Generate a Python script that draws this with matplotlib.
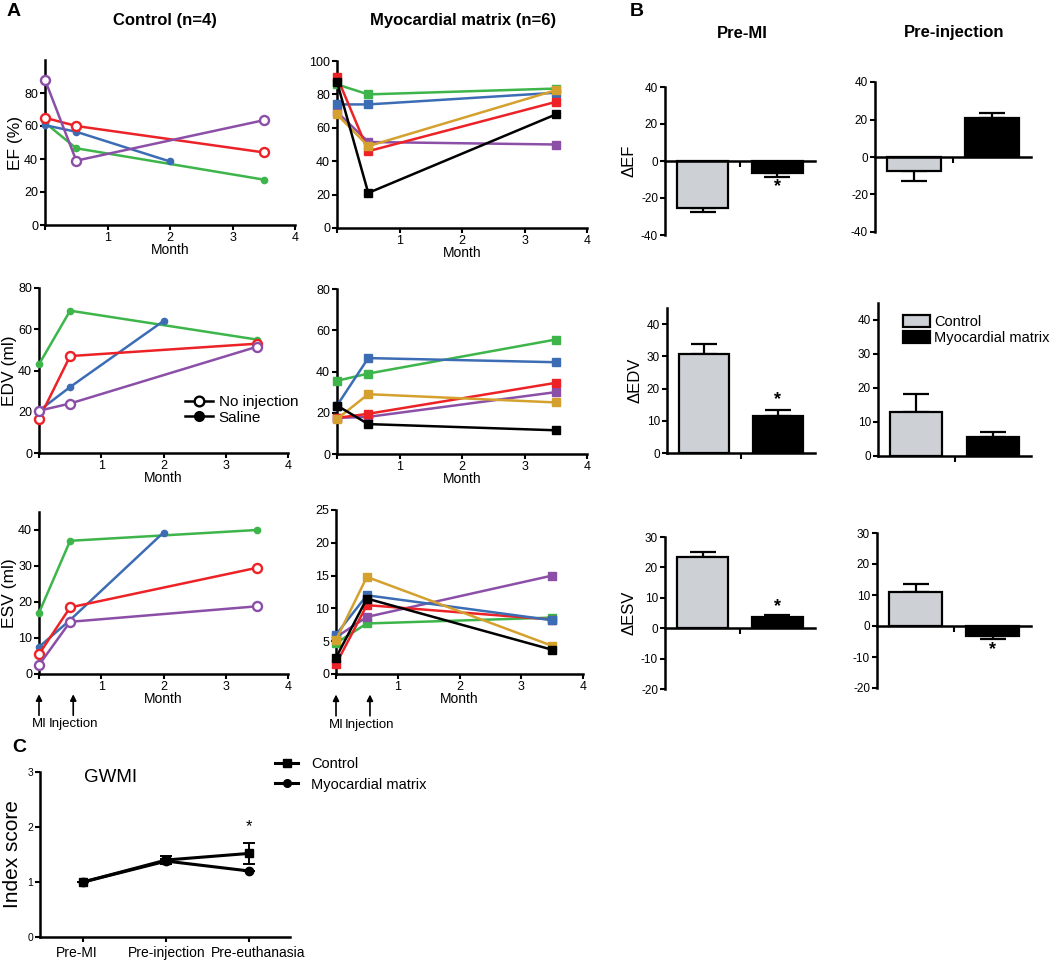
import matplotlib
matplotlib.use('Agg')
import matplotlib.pyplot as plt
import matplotlib.transforms as mtransforms
from matplotlib.lines import Line2D
from matplotlib.patches import Patch

plt.rcParams['font.family'] = ['Liberation Sans', 'DejaVu Sans']
plt.rcParams['axes.unicode_minus'] = False

# ---------------- data ----------------
# Panel A: time (months) of each measurement
t_full = [0, 0.5, 3.5]
t_short = [0, 0.5, 2]

RED, PURPLE, BLUE, GREEN, GOLD, BLACK = '#EC2227', '#8B4FA7', '#3C6DB4', '#3DB54A', '#D5A12E', '#000000'

# Control group (red/purple: no injection, blue/green: saline)
ef_ctrl_red = [65, 60, 44]
ef_ctrl_purple = [88, 39, 63.5]
ef_ctrl_blue = [60.5, 56.5, 38.5]
ef_ctrl_green = [62, 46.5, 27.5]

edv_ctrl_red = [16.5, 47, 53]
edv_ctrl_purple = [20.5, 24, 51.5]
edv_ctrl_blue = [20.5, 32, 64]
edv_ctrl_green = [43, 69, 55]

esv_ctrl_red = [5.5, 18.5, 29.5]
esv_ctrl_purple = [2.5, 14.5, 18.8]
esv_ctrl_blue = [7.5, 15, 39.3]
esv_ctrl_green = [17, 37, 40]

# Myocardial matrix group
ef_mm_red = [90.5, 46, 75.5]
ef_mm_black = [87.5, 21, 68]
ef_mm_green = [86, 80, 83.5]
ef_mm_blue = [74, 74, 81]
ef_mm_purple = [69.5, 51.5, 50]
ef_mm_gold = [68, 49, 82.5]

edv_mm_green = [35.5, 39, 55.5]
edv_mm_blue = [23.5, 46.5, 44.5]
edv_mm_black = [23.5, 14.5, 11.5]
edv_mm_gold = [17, 29, 25]
edv_mm_red = [17.5, 19.5, 34.5]
edv_mm_purple = [17.5, 18, 30]

esv_mm_gold = [5.2, 14.8, 4.3]
esv_mm_blue = [6, 12, 8.2]
esv_mm_black = [2.5, 11.5, 3.7]
esv_mm_red = [1.5, 10.5, 8.3]
esv_mm_purple = [5.6, 8.7, 15]
esv_mm_green = [4.7, 7.7, 8.6]

month_ticklabels = ['', '1', '2', '3', '4']

# Panel B: change values (Control, Myocardial matrix) and SEM
groups = ['Control', 'Myocardial matrix']
d_ef_premi = [-25.5, -6.3]
d_ef_premi_err = [2.0, 2.3]
d_ef_preinj = [-7.5, 20.8]
d_ef_preinj_err = [5.2, 2.8]
d_edv_premi = [30.8, 11.4]
d_edv_premi_err = [3.1, 1.9]
d_edv_preinj = [13.0, 5.6]
d_edv_preinj_err = [5.3, 1.6]
d_esv_premi = [23.5, 3.7]
d_esv_premi_err = [1.6, 0.7]
d_esv_preinj = [11.0, -3.2]
d_esv_preinj_err = [2.5, 1.0]

# Panel C: GWMI
gwmi_labels = ['Pre-MI', 'Pre-injection', 'Pre-euthanasia']
gwmi_ctrl = [1.0, 1.40, 1.52]
gwmi_ctrl_err = [0.0, 0.08, 0.19]
gwmi_mm = [1.0, 1.38, 1.20]
gwmi_mm_err = [0.0, 0.04, 0.0]

# ---------------- figure ----------------
W, H = 1050, 961
fig = plt.figure(figsize=(W / 100, H / 100), dpi=100)


def add_ax(l, t, r, b):
    return fig.add_axes([l / W, 1 - b / H, (r - l) / W, (b - t) / H])


def ftext(x, y, s, **kw):
    fig.text(x / W, 1 - y / H, s, **kw)


def style(ax, ls=8):
    for s in ['top', 'right']:
        ax.spines[s].set_visible(False)
    for s in ['left', 'bottom']:
        ax.spines[s].set_linewidth(1.8)
    ax.tick_params(width=1.5, length=3.5, labelsize=ls, direction='out', pad=1.5)
    ax.patch.set_alpha(0)


def line(ax, x, y, color, kind):
    if kind == 'open':
        ax.plot(x, y, '-o', color=color, lw=1.8, ms=6.5, mfc='white', mec=color,
                mew=1.7, clip_on=False, zorder=3)
    elif kind == 'filled':
        ax.plot(x, y, '-o', color=color, lw=1.8, ms=4.5, clip_on=False, zorder=3)
    else:
        ax.plot(x, y, '-s', color=color, lw=1.8, ms=5.5, clip_on=False, zorder=3)


def month_axis(ax, ylim, yticks, ylabel=None):
    style(ax, ls=9)
    ax.set_xlim(0, 4)
    ax.set_xticks(range(5))
    ax.set_xticklabels(month_ticklabels)
    ax.set_ylim(*ylim)
    ax.set_yticks(yticks)
    ax.set_xlabel('Month', fontsize=10, labelpad=-1)
    if ylabel:
        ax.set_ylabel(ylabel, fontsize=12.5, labelpad=1)


# Panel A
ax = add_ax(45, 60, 295, 225)
month_axis(ax, (0, 100), [0, 20, 40, 60, 80], 'EF (%)')
line(ax, t_full, ef_ctrl_green, GREEN, 'filled')
line(ax, t_short, ef_ctrl_blue, BLUE, 'filled')
line(ax, t_full, ef_ctrl_red, RED, 'open')
line(ax, t_full, ef_ctrl_purple, PURPLE, 'open')

ax = add_ax(337, 61, 587, 228)
month_axis(ax, (0, 100), [0, 20, 40, 60, 80, 100])
for y, c in [(ef_mm_purple, PURPLE), (ef_mm_blue, BLUE), (ef_mm_green, GREEN),
             (ef_mm_red, RED), (ef_mm_gold, GOLD), (ef_mm_black, BLACK)]:
    line(ax, t_full, y, c, 'square')

ax = add_ax(39, 288, 288, 453)
month_axis(ax, (0, 80), [0, 20, 40, 60, 80], 'EDV (ml)')
line(ax, t_full, edv_ctrl_green, GREEN, 'filled')
line(ax, t_short, edv_ctrl_blue, BLUE, 'filled')
line(ax, t_full, edv_ctrl_red, RED, 'open')
line(ax, t_full, edv_ctrl_purple, PURPLE, 'open')
leg_handles = [Line2D([], [], color='k', lw=1.8, marker='o', ms=7, mfc='white', mew=1.7),
               Line2D([], [], color='k', lw=1.8, marker='o', ms=7)]
ax.legend(leg_handles, ['No injection', 'Saline'], loc='upper left',
          bbox_to_anchor=(185 / W, 1 - 395 / H), bbox_transform=fig.transFigure,
          frameon=False, fontsize=11, handlelength=1.8, handletextpad=0.4,
          labelspacing=0.1, borderpad=0, borderaxespad=0)

ax = add_ax(337, 289, 587, 454)
month_axis(ax, (0, 80), [0, 20, 40, 60, 80])
for y, c in [(edv_mm_purple, PURPLE), (edv_mm_red, RED), (edv_mm_gold, GOLD),
             (edv_mm_green, GREEN), (edv_mm_blue, BLUE), (edv_mm_black, BLACK)]:
    line(ax, t_full, y, c, 'square')

ax_esv_c = add_ax(39, 512, 288, 674)
month_axis(ax_esv_c, (0, 45), [0, 10, 20, 30, 40], 'ESV (ml)')
line(ax_esv_c, t_full, esv_ctrl_green, GREEN, 'filled')
line(ax_esv_c, t_short, esv_ctrl_blue, BLUE, 'filled')
line(ax_esv_c, t_full, esv_ctrl_red, RED, 'open')
line(ax_esv_c, t_full, esv_ctrl_purple, PURPLE, 'open')

ax_esv_m = add_ax(336, 510, 583, 674)
month_axis(ax_esv_m, (0, 25), [0, 5, 10, 15, 20, 25])
for y, c in [(esv_mm_green, GREEN), (esv_mm_purple, PURPLE), (esv_mm_red, RED),
             (esv_mm_blue, BLUE), (esv_mm_gold, GOLD), (esv_mm_black, BLACK)]:
    line(ax_esv_m, t_full, y, c, 'square')

for a in (ax_esv_c, ax_esv_m):
    tr = a.get_xaxis_transform()
    for xpos, lab in [(0, 'MI'), (0.55, 'Injection')]:
        a.annotate('', xy=(xpos, -0.125), xytext=(xpos, -0.255), xycoords=tr, textcoords=tr,
                   arrowprops=dict(arrowstyle='-|>', color='k', lw=1.2, mutation_scale=9,
                                   shrinkA=0, shrinkB=0), annotation_clip=False)
        a.text(xpos, -0.31, lab, transform=tr, ha='center', va='center', fontsize=9.5)

# Panel B
GRAY = '#CDD0D5'


def bar_axis(box, vals, errs, ylim, yticks, ylabel=None, stars=()):
    ax = add_ax(*box)
    style(ax, ls=8.5)
    ax.spines['bottom'].set_position(('data', 0))
    ax.set_xlim(0, 2)
    ax.set_ylim(*ylim)
    ax.set_yticks(yticks)
    ax.set_xticks([1])
    ax.set_xticklabels([''])
    ax.tick_params(axis='x', length=4)
    xs = [0.5, 1.5]
    for x, v, e, c in zip(xs, vals, errs, [GRAY, 'black']):
        ax.errorbar([x], [v], yerr=[[0], [e]] if v >= 0 else [[e], [0]], fmt='none',
                    ecolor='black', elinewidth=1.6, capsize=9.5, capthick=1.6, zorder=1)
        ax.bar([x], [v], width=0.68, color=c, edgecolor='black', linewidth=1.6, zorder=2)
    for x, y in stars:
        ax.text(x, y, '*', ha='center', va='center', fontsize=13, fontweight='bold')
    if ylabel:
        ax.set_ylabel(ylabel, fontsize=12, labelpad=3)
    return ax


bar_axis((665, 87, 815, 235), d_ef_premi, d_ef_premi_err, (-40, 40),
         [-40, -20, 0, 20, 40], '\u0394EF', stars=[(1.5, -14)])
bar_axis((875, 82, 1031, 232), d_ef_preinj, d_ef_preinj_err, (-40, 40),
         [-40, -20, 0, 20, 40])
bar_axis((667, 308, 815, 453), d_edv_premi, d_edv_premi_err, (0, 45),
         [0, 10, 20, 30, 40], '\u0394EDV', stars=[(1.5, 16.5)])
axl = bar_axis((878, 303, 1031, 456), d_edv_preinj, d_edv_preinj_err, (0, 45),
               [0, 10, 20, 30, 40])
axl.legend([Patch(facecolor=GRAY, edgecolor='black', linewidth=1.6),
            Patch(facecolor='black', edgecolor='black', linewidth=1.6)], groups,
           loc='upper left', bbox_to_anchor=(903 / W, 1 - 315 / H),
           bbox_transform=fig.transFigure, frameon=False, fontsize=10.5,
           handlelength=1.85, handleheight=0.85, handletextpad=0.3, labelspacing=0.15,
           borderpad=0, borderaxespad=0)
bar_axis((665, 537, 815, 689), d_esv_premi, d_esv_premi_err, (-20, 30),
         [-20, -10, 0, 10, 20, 30], '\u0394ESV', stars=[(1.5, 7.2)])
bar_axis((877, 533, 1031, 688), d_esv_preinj, d_esv_preinj_err, (-20, 30),
         [-20, -10, 0, 10, 20, 30], stars=[(1.5, -7.5)])

# Panel C
ax = add_ax(40, 772, 290, 937)
style(ax)
ax.set_xlim(-0.52, 2.49)
ax.set_ylim(0, 3)
ax.set_yticks([0, 1, 2, 3])
ax.tick_params(axis='y', labelsize=7.5)
ax.set_xticks(range(3))
ax.set_xticklabels(gwmi_labels, fontsize=10)
ax.tick_params(axis='x', pad=3)
for lab, dx in zip(ax.get_xticklabels(), [-6, 0, 9]):
    lab.set_transform(lab.get_transform() + mtransforms.ScaledTranslation(dx / 100, 0, fig.dpi_scale_trans))
xc = list(range(3))
ax.errorbar(xc, gwmi_mm, yerr=gwmi_mm_err, color='black', lw=2.2, marker='o', ms=6,
            capsize=4.5, elinewidth=1.4, capthick=1.4, clip_on=False, zorder=3)
ax.errorbar(xc, gwmi_ctrl, yerr=gwmi_ctrl_err, color='black', lw=2.2, marker='s', ms=6,
            capsize=4.5, elinewidth=1.4, capthick=1.4, clip_on=False, zorder=3)
ax.text(2, 2.0, '*', ha='center', va='center', fontsize=12)
ax.set_ylabel('Index score', fontsize=15, labelpad=4)
ax.legend([Line2D([], [], color='k', lw=2.2, marker='s', ms=5.5),
           Line2D([], [], color='k', lw=2.2, marker='o', ms=5.5)], groups,
          loc='upper left', bbox_to_anchor=(275 / W, 1 - 757 / H),
          bbox_transform=fig.transFigure, frameon=False, fontsize=10.5,
          handlelength=1.6, handletextpad=0.9, labelspacing=0.45,
          borderpad=0, borderaxespad=0)

# titles and panel letters
ftext(7, 12, 'A', fontsize=14, fontweight='bold', va='center', ha='left')
ftext(165, 20, 'Control (n=4)', fontsize=12, fontweight='bold', va='center', ha='center')
ftext(463, 20, 'Myocardial matrix (n=6)', fontsize=12, fontweight='bold', va='center', ha='center')
ftext(630, 12, 'B', fontsize=14, fontweight='bold', va='center', ha='left')
ftext(742, 33, 'Pre-MI', fontsize=12, fontweight='bold', va='center', ha='center')
ftext(954, 33, 'Pre-injection', fontsize=12, fontweight='bold', va='center', ha='center')
ftext(12, 748, 'C', fontsize=14, fontweight='bold', va='center', ha='left')
ftext(111, 778, 'GWMI', fontsize=13.5, va='center', ha='center')

fig.savefig('out.png', dpi=100)
